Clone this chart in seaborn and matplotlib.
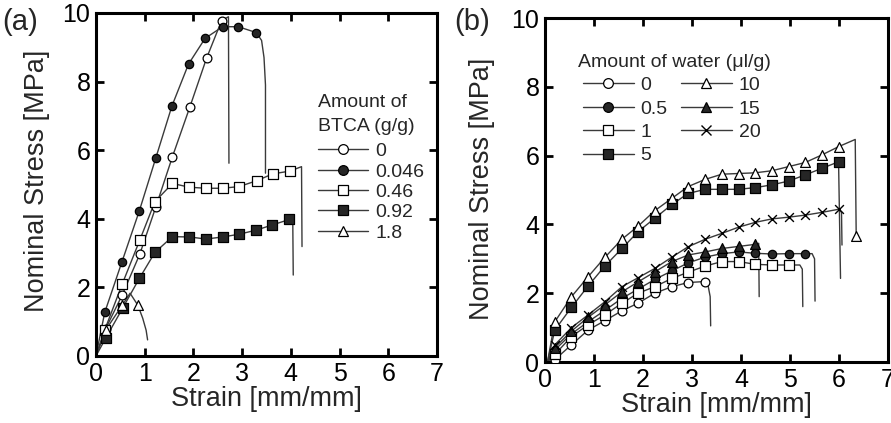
import numpy as np
import pandas as pd
import matplotlib
matplotlib.use("Agg")
import matplotlib.pyplot as plt
from matplotlib.lines import Line2D
import seaborn as sns

# ---- panel (a): amount of BTCA (g/g) ----
a_labels = ["0", "0.046", "0.46", "0.92", "1.8"]

a0_x = [0.2, 0.54, 0.9, 1.23, 1.57, 1.93, 2.27, 2.58]
a0_y = [0.8, 1.78, 2.97, 4.35, 5.81, 7.27, 8.68, 9.78]
a0_tail_x = [2.72, 2.73]
a0_tail_y = [9.89, 5.62]

a1_x = [0.18, 0.53, 0.89, 1.23, 1.56, 1.9, 2.24, 2.6, 2.92, 3.29]
a1_y = [1.27, 2.73, 4.23, 5.78, 7.29, 8.51, 9.26, 9.6, 9.6, 9.43]
a1_tail_x = [3.4, 3.45, 3.48, 3.48]
a1_tail_y = [9.2, 8.7, 7.9, 5.33]

a2_x = [0.18, 0.54, 0.9, 1.21, 1.57, 1.92, 2.26, 2.6, 2.94, 3.3, 3.63, 3.98]
a2_y = [0.76, 2.1, 3.38, 4.5, 5.03, 4.92, 4.89, 4.89, 4.94, 5.11, 5.31, 5.39]
a2_tail_x = [4.22, 4.23]
a2_tail_y = [5.52, 3.19]

a3_x = [0.2, 0.55, 0.89, 1.21, 1.57, 1.92, 2.26, 2.6, 2.94, 3.29, 3.62, 3.97]
a3_y = [0.52, 1.4, 2.26, 3.02, 3.48, 3.47, 3.41, 3.47, 3.55, 3.67, 3.82, 3.98]
a3_tail_x = [4.04, 4.05]
a3_tail_y = [3.97, 2.36]

a4_x = [0.2, 0.54, 0.86]
a4_y = [0.76, 1.48, 1.48]
a4_peak_x = [0.7]
a4_peak_y = [1.83]
a4_tail_x = [0.96, 1.03, 1.06]
a4_tail_y = [1.1, 0.75, 0.47]

# ---- panel (b): amount of water (ul/g) ----
b_labels = ["0", "0.5", "1", "5", "10", "15", "20"]

b_grid = [0.2, 0.54, 0.88, 1.22, 1.57, 1.9, 2.24, 2.59, 2.92, 3.27, 3.61,
          3.95, 4.29, 4.63, 4.97, 5.31, 5.65, 5.99]

b0_y = [0.07, 0.5, 0.93, 1.2, 1.49, 1.71, 2.0, 2.19, 2.31, 2.34]
b0_tail_x = [3.33, 3.37, 3.38]
b0_tail_y = [2.2, 1.9, 1.05]

b1_y = [0.35, 0.82, 1.17, 1.5, 1.85, 2.12, 2.4, 2.65, 2.88, 3.05, 3.15,
        3.2, 3.16, 3.14, 3.15, 3.15]
b1_tail_x = [5.45, 5.5, 5.51]
b1_tail_y = [3.15, 3.0, 1.77]

b2_y = [0.22, 0.74, 1.08, 1.37, 1.71, 2.0, 2.19, 2.43, 2.61, 2.79, 2.92,
        2.92, 2.84, 2.82, 2.82]
b2_tail_x = [5.2, 5.25, 5.26]
b2_tail_y = [2.82, 2.7, 1.61]

b3_y = [0.93, 1.59, 2.21, 2.79, 3.3, 3.79, 4.18, 4.58, 4.9, 5.02, 5.02,
        5.02, 5.07, 5.15, 5.26, 5.44, 5.63, 5.82]
b3_tail_x = [6.03]
b3_tail_y = [2.43]

b4_y = [1.17, 1.9, 2.48, 3.04, 3.57, 3.95, 4.4, 4.76, 5.1, 5.31, 5.46,
        5.48, 5.5, 5.56, 5.68, 5.8, 6.02, 6.26]
b4_tail_x = [6.33, 6.35]
b4_tail_y = [6.47, 3.66]

b5_y = [0.42, 0.9, 1.3, 1.66, 2.04, 2.33, 2.62, 2.92, 3.11, 3.2, 3.3,
        3.36, 3.42]
b5_tail_x = [4.36, 4.37]
b5_tail_y = [3.45, 1.9]

b6_y = [0.5, 1.0, 1.37, 1.75, 2.19, 2.45, 2.72, 3.05, 3.35, 3.57, 3.74,
        3.92, 4.06, 4.16, 4.21, 4.27, 4.35, 4.44]
b6_tail_x = [6.05, 6.06]
b6_tail_y = [4.35, 3.4]

LINE = "#3a3a3a"
sns.set_theme(style="ticks")
plt.rcParams["font.family"] = ["Liberation Sans", "DejaVu Sans"]


def style(marker, filled):
    fc = "#262626" if filled else "white"
    return dict(marker=marker, facecolor=fc, edgecolor="black", linewidth=0.9)


def draw(ax, x0, y0, mx, my, tx, ty, marker, filled, size, extra=None):
    xs = [x0] + list(mx) + list(tx)
    ys = [y0] + list(my) + list(ty)
    if extra is not None:
        xs = [x0] + list(mx[:2]) + extra[0] + list(mx[2:]) + list(tx)
        ys = [y0] + list(my[:2]) + extra[1] + list(my[2:]) + list(ty)
    df = pd.DataFrame({"x": xs, "y": ys})
    sns.lineplot(data=df, x="x", y="y", ax=ax, sort=False, estimator=None,
                 color=LINE, linewidth=1.0)
    st = style(marker, filled)
    if marker == "x":
        sns.scatterplot(x=mx, y=my, ax=ax, marker="x", color="black",
                        s=size, linewidth=1.0, zorder=3)
    else:
        sns.scatterplot(x=mx, y=my, ax=ax, s=size, zorder=3, **st)


def handle(marker, filled, ms):
    if marker == "x":
        return Line2D([], [], color=LINE, lw=1.0, marker="x", mec="black",
                      ms=ms, mew=1.0)
    return Line2D([], [], color=LINE, lw=1.0, marker=marker,
                  mfc="#262626" if filled else "white", mec="black",
                  ms=ms, mew=0.9)


def setup(ax):
    ax.set_xlim(0, 7)
    ax.set_ylim(0, 10)
    ax.set_xticks(range(0, 8))
    ax.set_yticks(range(0, 11, 2))
    ax.tick_params(direction="in", top=True, right=True, length=6, width=2,
                   labelsize=18, pad=4, colors="black")
    for s in ax.spines.values():
        s.set_linewidth(2.2)
        s.set_color("black")
        s.set_visible(True)
    ax.set_xlabel("Strain [mm/mm]", fontsize=19.5, labelpad=0)
    ax.set_ylabel("Nominal Stress [MPa]", fontsize=19.5)


fig = plt.figure(figsize=(8.91, 4.23), dpi=100)
ax1 = fig.add_axes([0.1077, 0.1584, 0.3827, 0.8109])
ax2 = fig.add_axes([0.6117, 0.1442, 0.3850, 0.8132])

# panel (a)
draw(ax1, 0, 0, a0_x, a0_y, a0_tail_x, a0_tail_y, "o", False, 40)
draw(ax1, 0, 0, a1_x, a1_y, a1_tail_x, a1_tail_y, "o", True, 36)
draw(ax1, 0, 0, a2_x, a2_y, a2_tail_x, a2_tail_y, "s", False, 55)
draw(ax1, 0, 0, a3_x, a3_y, a3_tail_x, a3_tail_y, "s", True, 55)
draw(ax1, 0, 0, a4_x, a4_y, a4_tail_x, a4_tail_y, "^", False, 50,
     extra=(a4_peak_x, a4_peak_y))
setup(ax1)
ax1.yaxis.set_label_coords(-0.135, 0.51)

a_styles = [("o", False), ("o", True), ("s", False), ("s", True), ("^", False)]
h1 = [handle(m, f, 7) for m, f in a_styles]
ax1.text(0.651, 0.7376, "Amount of", transform=ax1.transAxes, fontsize=14,
         ha="left", va="center")
ax1.text(0.651, 0.668, "BTCA (g/g)", transform=ax1.transAxes, fontsize=14,
         ha="left", va="center")
ax1.legend(h1, a_labels, loc="upper left", bbox_to_anchor=(0.651, 0.622),
           frameon=False, fontsize=14, handlelength=2.6, handletextpad=0.35,
           labelspacing=0.14, borderpad=0, borderaxespad=0)

# panel (b)
b_series = [
    (b0_y, b0_tail_x, b0_tail_y, "o", False, 40),
    (b1_y, b1_tail_x, b1_tail_y, "o", True, 36),
    (b2_y, b2_tail_x, b2_tail_y, "s", False, 55),
    (b3_y, b3_tail_x, b3_tail_y, "s", True, 55),
    (b4_y, b4_tail_x, b4_tail_y, "^", False, 50),
    (b5_y, b5_tail_x, b5_tail_y, "^", True, 50),
    (b6_y, b6_tail_x, b6_tail_y, "x", False, 40),
]
for yv, tx, ty, m, f, s in b_series:
    draw(ax2, 0.05, 0, b_grid[:len(yv)], yv, tx, ty, m, f, s)
# last point of the 10 ul/g curve after failure
sns.scatterplot(x=[b4_tail_x[-1]], y=[b4_tail_y[-1]], ax=ax2, s=50, zorder=3,
                **style("^", False))
setup(ax2)
ax2.yaxis.set_label_coords(-0.146, 0.503)

b_styles = [("o", False), ("o", True), ("s", False), ("s", True),
            ("^", False), ("^", True), ("x", False)]
h2 = [handle(m, f, 7) for m, f in b_styles]
ax2.text(0.096, 0.872, "Amount of water (\u03bcl/g)", transform=ax2.transAxes,
         fontsize=14, ha="left", va="center")
ax2.legend(h2, b_labels, ncol=2, loc="upper left",
           bbox_to_anchor=(0.111, 0.83), frameon=False, fontsize=14,
           handlelength=2.6, handletextpad=0.35, labelspacing=0.3,
           columnspacing=0.7, borderpad=0, borderaxespad=0)

fig.text(0.003, 0.948, "(a)", fontsize=21, va="center", ha="left")
fig.text(0.51, 0.948, "(b)", fontsize=21, va="center", ha="left")

fig.savefig("out.png", dpi=100)
